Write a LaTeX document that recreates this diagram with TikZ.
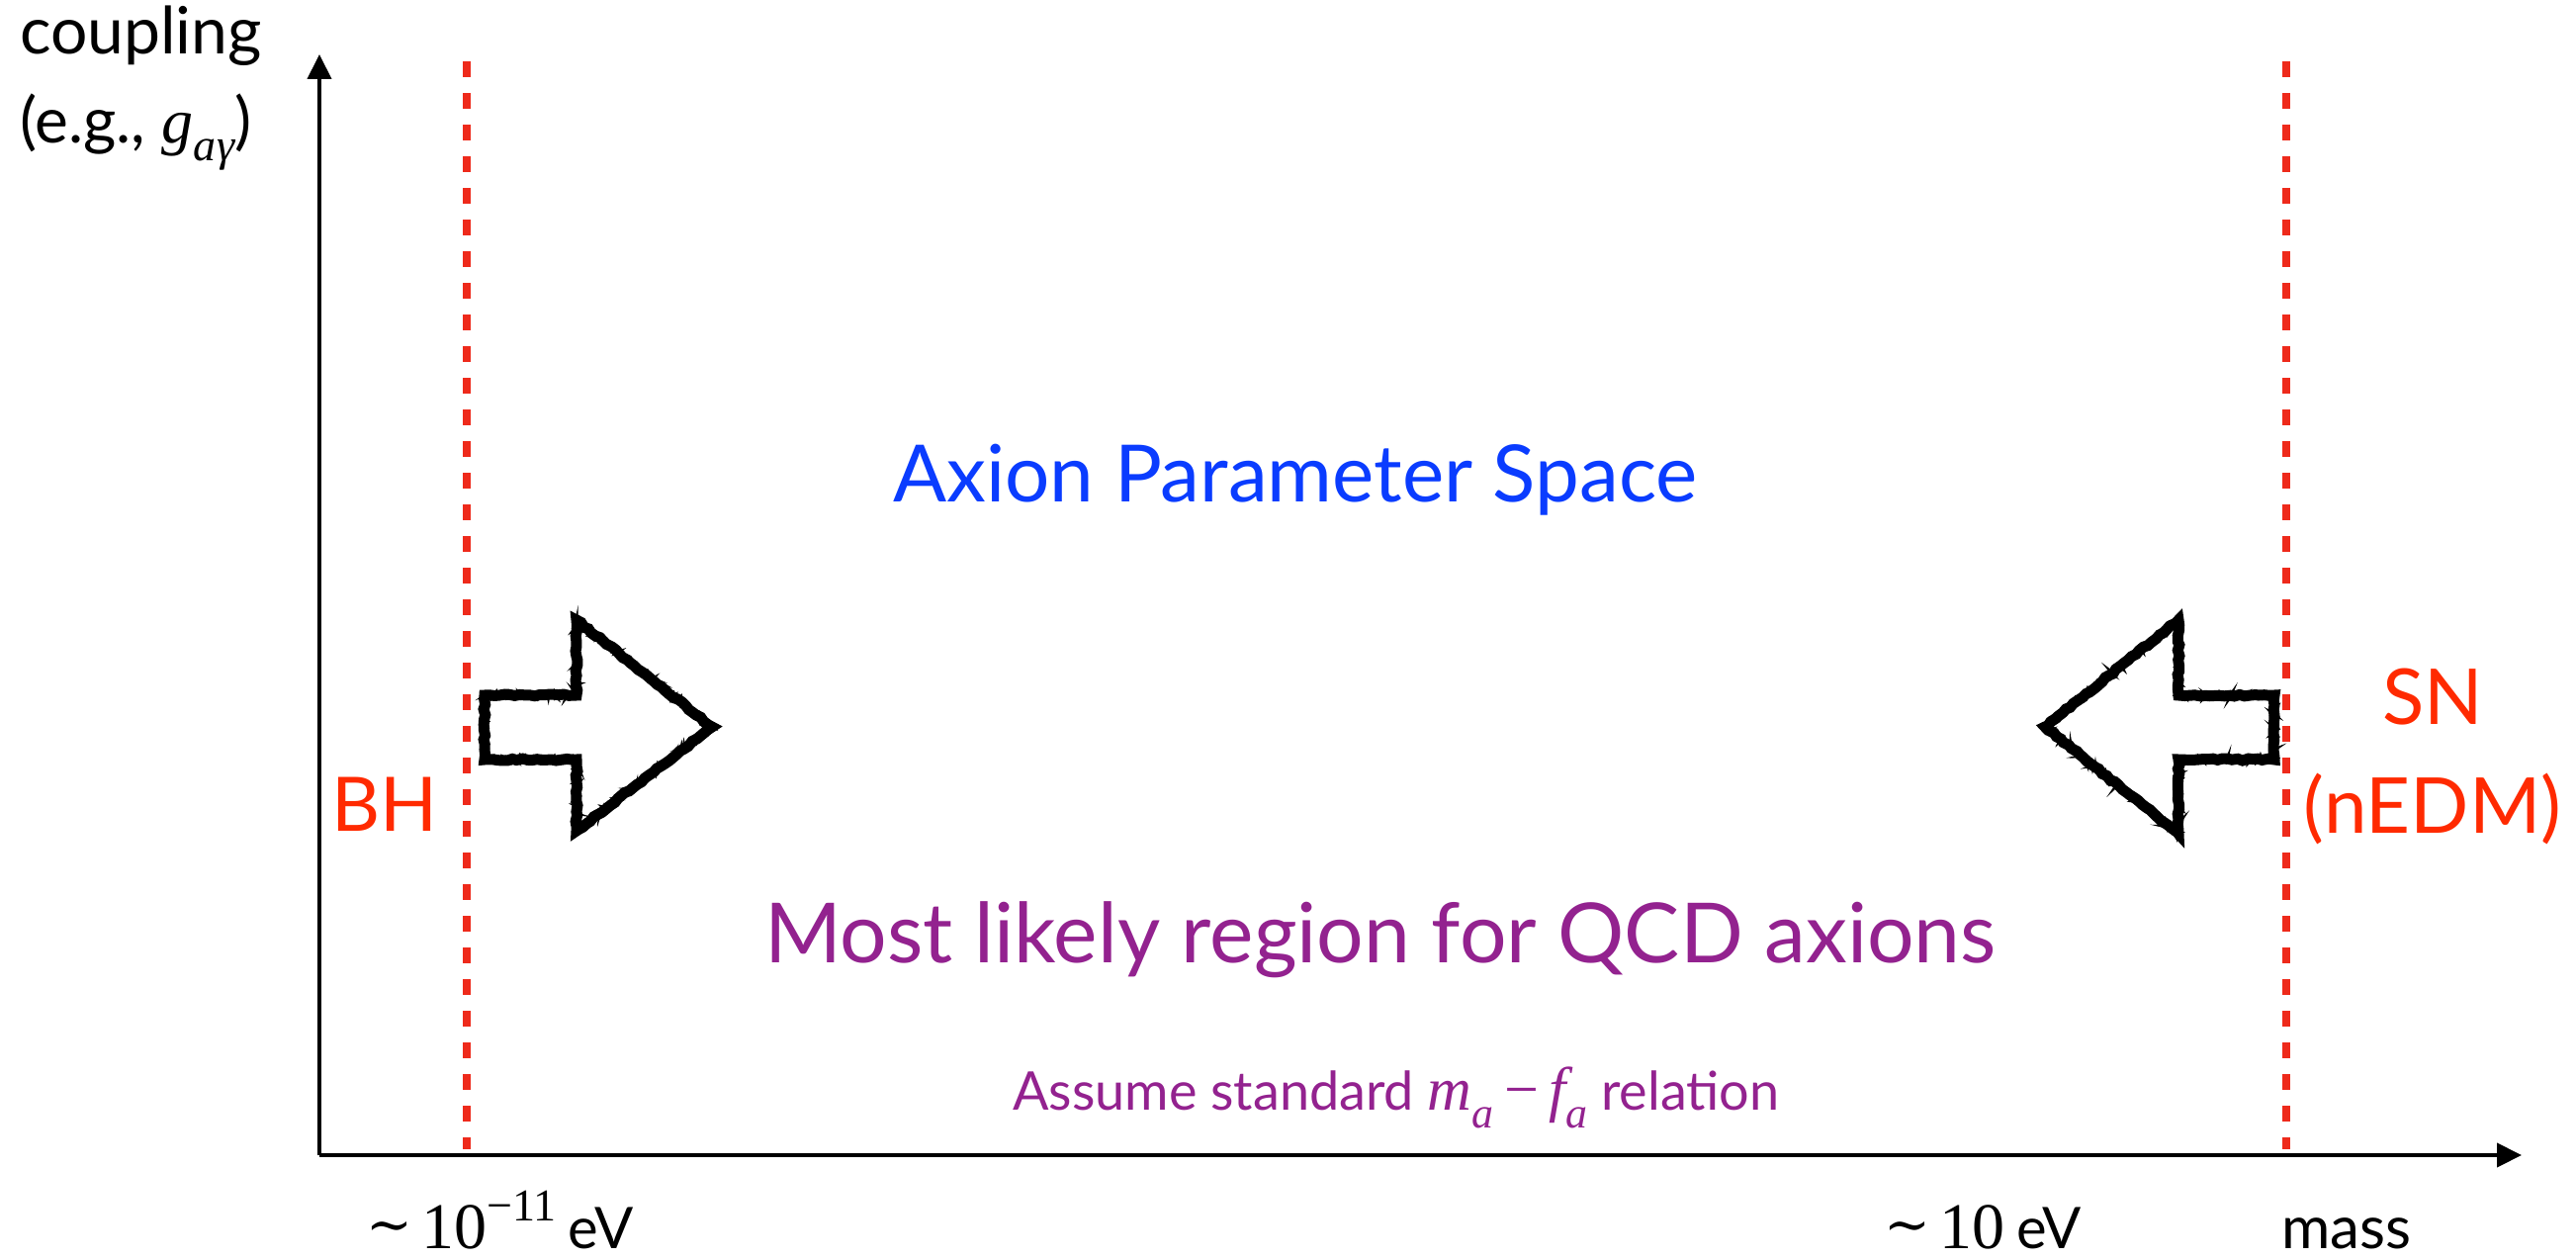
\documentclass[tikz,border=0pt]{standalone}
\usepackage{fontspec}
\usetikzlibrary{arrows.meta,decorations.pathmorphing}
\setmainfont{Lato}
\newfontfamily\tms{Liberation Serif}
\newfontfamily\dvs{DejaVu Serif}
\newcommand{\fs}[1]{\fontsize{#1}{#1}\selectfont}
\newcommand{\approxsign}{{\dvs\fs{56}\raisebox{0.08em}{∼}}}
\definecolor{limitred}{HTML}{EE2A1B}
\definecolor{labelred}{HTML}{FF2A00}
\definecolor{axionblue}{HTML}{0A3CFF}
\definecolor{qcdpurple}{HTML}{93228F}
\tikzset{
  axisline/.style={line width=4pt,-{Triangle[length=25pt,width=24pt]}},
  boundline/.style={limitred,line width=8.5pt,dash pattern=on 16pt off 16pt},
  txt/.style={inner sep=0pt,outer sep=0pt},
  sketchbase/.style={line width=11pt,line join=miter,decorate,decoration={random steps,segment length=5pt,amplitude=1pt}},
  sketchpass/.style={line width=3pt,decorate,decoration={random steps,segment length=3pt,amplitude=3.5pt}},
}
\begin{document}
\begin{tikzpicture}[x=1pt,y=-1pt]
\useasboundingbox (0,0) rectangle (2605,1273);
% axes
\coordinate (O) at (323,1168);
\coordinate (Ytop) at (323,55);
\coordinate (Xend) at (2550,1168);
\draw[axisline] (O) -- (Ytop);
\draw[axisline] (O) -- (Xend);
% mass bounds
\coordinate (bhTop) at (472,62);
\coordinate (bhBot) at (472,1162);
\coordinate (snTop) at (2312,62);
\coordinate (snBot) at (2312,1162);
\draw[boundline] (bhTop) -- (bhBot);
\draw[boundline] (snTop) -- (snBot);
% hand-drawn block arrows
\pgfmathsetseed{7}
\def\rightarrowpath{(490,703) -- (583,703) -- (583,627) -- (720,735) -- (583,840) -- (583,768) -- (490,768) -- cycle}
\def\leftarrowpath{(2300,703) -- (2203,703) -- (2203,627) -- (2068,735) -- (2203,843) -- (2203,768) -- (2300,768) -- cycle}
\foreach \p in {\rightarrowpath,\leftarrowpath}{
  \draw[sketchbase] \p;
  \draw[sketchpass] \p;
  \draw[sketchpass] \p;
  \draw[sketchpass] \p;
}
% axis labels
\node[txt,anchor=base west] (coupling) at (20,55) {\fs{66}coupling};
\node[txt,anchor=base west] (eg) at (20,145) {\fs{64}(e.g., {\tms\itshape g\raisebox{-0.28em}{\fs{46}a\kern1ptγ}})};
\node[txt,anchor=base west] (lowm) at (370,1262) {\fs{58}\approxsign\,{\tms\fs{66}10\raisebox{0.42em}{\fs{46}−11}}\kern12pt eV};
\node[txt,anchor=base west] (highm) at (1905,1262) {\fs{58}\approxsign\,{\tms\fs{66}10}\kern12pt eV};
\node[txt,anchor=base west] (mass) at (2307,1262) {\fs{60}mass};
% region labels
\node[txt,anchor=base,text=axionblue] (aps) at (1310,507) {\fs{80}Axion Parameter Space};
\node[txt,anchor=base,text=qcdpurple] (qcd) at (1396,973) {\fs{84}Most likely region for QCD axions};
\node[txt,anchor=base,text=qcdpurple] (rel) at (1412,1122) {\fs{54}Assume standard {\tms\itshape\fs{62}m\raisebox{-0.3em}{\fs{44}a}\,\upshape−\,\itshape f\raisebox{-0.3em}{\fs{44}a}} relation};
\node[txt,anchor=base,text=labelred] (bh) at (389,840) {\fs{76}BH};
\node[txt,anchor=base,text=labelred] (sn) at (2460,732) {\fs{78}SN};
\node[txt,anchor=base,text=labelred] (nedm) at (2460,842) {\fs{78}(nEDM)};
\end{tikzpicture}
\end{document}
